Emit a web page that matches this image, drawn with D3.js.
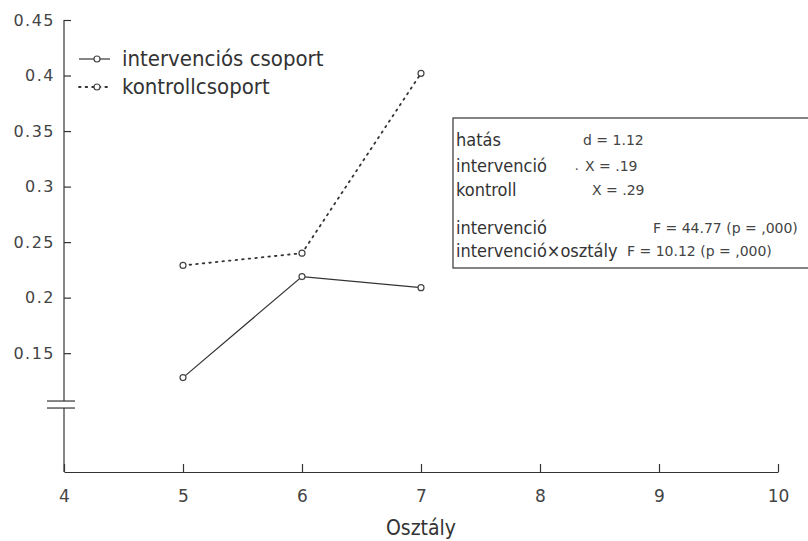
<!DOCTYPE html>
<html>
<head>
<meta charset="utf-8">
<script src="https://cdn.jsdelivr.net/npm/d3@7"></script>
<style>
  body { margin: 0; background: #fff; }
  svg { display: block; }
</style>
</head>
<body>
<svg></svg>
<script>
// data
const grades = [5, 6, 7];
const intervention = [0.128, 0.219, 0.209];
const control = [0.229, 0.240, 0.402];
const xTicks = [4, 5, 6, 7, 8, 9, 10];
const yTicks = [0.15, 0.2, 0.25, 0.3, 0.35, 0.4, 0.45];
const yTickLabels = ["0.15", "0.2", "0.25", "0.3", "0.35", "0.4", "0.45"];
const legendLabels = ["intervenciós csoport", "kontrollcsoport"];
const boxLeft = ["hatás", "intervenció", "kontroll", "intervenció", "intervenció×osztály"];
const boxRight = ["d = 1.12", "X = .19", "X = .29", "F = 44.77 (p = ,000)", "F = 10.12 (p = ,000)"];

const width = 808, height = 541;
const ink = "#333";
const narrow = "'Liberation Sans Narrow', 'DejaVu Sans Condensed', sans-serif";

const svg = d3.select("svg")
    .attr("width", width)
    .attr("height", height);

const x = d3.scaleLinear().domain([4, 10]).range([64, 778]);
const y = d3.scaleLinear().domain([0.043, 0.45]).range([472, 20]);
const breakVal = 0.106;

// y axis: ticks inside, labels left
const yAxis = svg.append("g")
    .attr("transform", `translate(${x(4)},0)`)
    .call(d3.axisLeft(y).tickValues(yTicks)
        .tickFormat((d, i) => yTickLabels[i])
        .tickSizeInner(-7).tickSizeOuter(0).tickPadding(9));
yAxis.select(".domain").remove();
yAxis.selectAll("line").attr("stroke", ink).attr("stroke-width", 1.2);
yAxis.selectAll("text")
    .attr("fill", "#444")
    .style("font-family", "'DejaVu Sans', sans-serif")
    .style("font-size", "16px")
    .style("letter-spacing", "1.5px");

// y axis line with break
const yLine = svg.append("g").attr("stroke", ink).attr("stroke-width", 1.2);
yLine.append("line")
    .attr("x1", x(4)).attr("x2", x(4))
    .attr("y1", y(0.45)).attr("y2", y(breakVal) - 1);
yLine.append("line")
    .attr("x1", x(4)).attr("x2", x(4))
    .attr("y1", y(breakVal) + 6).attr("y2", y(0.043));
yLine.selectAll(".brk")
    .data([y(breakVal) - 1, y(breakVal) + 6])
    .enter().append("line")
    .attr("x1", x(4) - 17).attr("x2", x(4) + 11)
    .attr("y1", d => d).attr("y2", d => d);

// x axis
const xAxis = svg.append("g")
    .attr("transform", `translate(0,${y(0.043)})`)
    .call(d3.axisBottom(x).tickValues(xTicks)
        .tickFormat(d3.format("d"))
        .tickSizeInner(-8).tickSizeOuter(0).tickPadding(18));
xAxis.select(".domain").attr("stroke", ink).attr("stroke-width", 1.2);
xAxis.selectAll("line").attr("stroke", ink).attr("stroke-width", 1.2);
xAxis.selectAll("text")
    .attr("fill", "#444")
    .style("font-family", "'DejaVu Sans', sans-serif")
    .style("font-size", "17px");

svg.append("text")
    .attr("x", x(7))
    .attr("y", 535)
    .attr("text-anchor", "middle")
    .attr("fill", ink)
    .style("font-family", narrow)
    .style("font-size", "21px")
    .text("Osztály");

// series
const line = d3.line().x(d => x(d[0])).y(d => y(d[1]));
const series = [
    { vals: intervention, dash: null },
    { vals: control, dash: "1.6,5" }
];

series.forEach(s => {
    const pts = grades.map((g, i) => [g, s.vals[i]]);
    svg.append("path")
        .datum(pts)
        .attr("d", line)
        .attr("fill", "none")
        .attr("stroke", ink)
        .attr("stroke-width", s.dash ? 1.8 : 1.2)
        .attr("stroke-linecap", s.dash ? "round" : "butt")
        .attr("stroke-dasharray", s.dash);
    svg.selectAll(null)
        .data(pts)
        .enter().append("circle")
        .attr("cx", d => x(d[0]))
        .attr("cy", d => y(d[1]))
        .attr("r", 3)
        .attr("fill", "#fff")
        .attr("stroke", "#444")
        .attr("stroke-width", 1.2);
});

// legend
const legend = svg.append("g");
legendLabels.forEach((lab, i) => {
    const ly = 59 + i * 28;
    legend.append("line")
        .attr("x1", 79).attr("x2", 110)
        .attr("y1", ly).attr("y2", ly)
        .attr("stroke", ink)
        .attr("stroke-width", i ? 1.8 : 1.2)
        .attr("stroke-linecap", i ? "round" : "butt")
        .attr("stroke-dasharray", i ? "1.6,5" : null);
    legend.append("circle")
        .attr("cx", 97).attr("cy", ly).attr("r", 3)
        .attr("fill", "#fff").attr("stroke", "#444").attr("stroke-width", 1.2);
    legend.append("text")
        .attr("x", 122).attr("y", ly + 7)
        .attr("fill", ink)
        .style("font-family", narrow)
        .style("font-size", "22px")
        .text(lab);
});

// statistics box
svg.append("rect")
    .attr("x", 453).attr("y", 118)
    .attr("width", 360).attr("height", 150)
    .attr("fill", "none")
    .attr("stroke", ink)
    .attr("stroke-width", 1.2);

const rowY = [146, 172, 196, 234, 257];
const rightX = [583, 585, 592, 653, 627];
boxLeft.forEach((t, i) => {
    svg.append("text")
        .attr("x", 456).attr("y", rowY[i])
        .attr("fill", ink)
        .style("font-family", narrow)
        .style("font-size", "18px")
        .text(t);
    svg.append("text")
        .attr("x", rightX[i]).attr("y", rowY[i] - 1)
        .attr("fill", "#444")
        .style("font-family", "'DejaVu Sans', sans-serif")
        .style("font-size", "14px")
        .text(boxRight[i]);
});
svg.append("text")
    .attr("x", 575).attr("y", rowY[1] - 2)
    .attr("fill", "#444")
    .style("font-size", "14px")
    .text(".");
</script>
</body>
</html>
